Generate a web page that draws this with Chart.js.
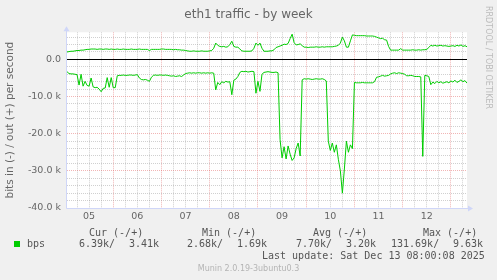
<!DOCTYPE html>
<html>
<head>
<meta charset="utf-8">
<script src="https://cdn.jsdelivr.net/npm/chart.js@4.4.0/dist/chart.umd.min.js"></script>
<style>
  html, body { margin: 0; padding: 0; background: #f0f0f0; }
  #wrap { position: relative; width: 497px; height: 280px; background: #f0f0f0; overflow: hidden; }
  #graph { position: absolute; left: 0; top: 0; }
  .txt { position: absolute; white-space: pre; color: #666; }
  .mono { font-family: "DejaVu Sans Mono", monospace; font-size: 10px; line-height: 12px; color: #555; }
  #title { left: 0; width: 497px; text-align: center; top: 7px; font: 12px "DejaVu Sans"; line-height: 14px; }
  #rrd { left: 484px; top: 6px; writing-mode: vertical-rl; font: 8px "DejaVu Sans"; line-height: 9px; color: #bbb; }
  #munin { left: 0; width: 497px; text-align: center; top: 264px; font: 8px "DejaVu Sans"; line-height: 10px; color: #b4b4b4; }
  #swatch { position: absolute; left: 14px; top: 241px; width: 6px; height: 6px; background: #00cc00; }
</style>
</head>
<body>
<div id="wrap">
  <canvas id="graph" width="497" height="280"></canvas>
  <div class="txt" id="title">eth1 traffic - by week</div>
  <div class="txt" id="rrd">RRDTOOL / TOBI OETIKER</div>

  <div class="txt mono" style="left:89px; top:227px">Cur (-/+)</div>
  <div class="txt mono" style="left:202px; top:227px">Min (-/+)</div>
  <div class="txt mono" style="left:313px; top:227px">Avg (-/+)</div>
  <div class="txt mono" style="left:423px; top:227px">Max (-/+)</div>

  <div id="swatch"></div>
  <div class="txt mono" style="left:27px; top:238px">bps</div>
  <div class="txt mono" style="left:79px; top:238px">6.39k/</div>
  <div class="txt mono" style="left:129px; top:238px">3.41k</div>
  <div class="txt mono" style="left:187px; top:238px">2.68k/</div>
  <div class="txt mono" style="left:237px; top:238px">1.69k</div>
  <div class="txt mono" style="left:296px; top:238px">7.70k/</div>
  <div class="txt mono" style="left:346px; top:238px">3.20k</div>
  <div class="txt mono" style="left:391px; top:238px">131.69k/</div>
  <div class="txt mono" style="left:453px; top:238px">9.63k</div>

  <div class="txt mono" style="left:262px; top:250px">Last update: Sat Dec 13 08:00:08 2025</div>
  <div class="txt" id="munin">Munin 2.0.19-3ubuntu0.3</div>
</div>

<script>
// x axis = hours since Dec 05 00:00, one sample per hour (01:00 .. 08:00 on the 13th)
const dayLabels = ['05', '06', '07', '08', '09', '10', '11', '12'];
const firstHour = 1;
const lastHour = 200;

// y axis in k bits/s
const yMin = -40;
const yMax = 7.3;
const yMajorTicks = [-40, -30, -20, -10, 0];

// out (+), k bits/s
const outK = [
  2.0, 2.1, 2.2, 2.2, 2.3, 2.4, 2.4, 2.5, 2.5, 2.6,
  2.7, 2.7, 2.8, 2.8, 2.8, 2.7, 2.8, 2.8, 2.7, 2.8,
  2.8, 2.7, 2.8, 2.7, 2.7, 2.8, 2.7, 2.7, 2.8, 2.7,
  2.7, 2.7, 2.8, 2.7, 2.7, 2.7, 2.8, 2.7, 2.7, 2.7,
  2.7, 2.4, 2.7, 2.7, 2.7, 2.7, 2.7, 2.8, 2.8, 2.7,
  2.7, 2.7, 2.7, 2.6, 2.7, 2.6, 2.6, 2.5, 2.5, 2.4,
  2.3, 2.2, 2.2, 2.3, 2.2, 2.2, 2.2, 2.3, 2.2, 2.2,
  2.2, 2.3, 2.4, 3.0, 4.4, 3.8, 3.5, 3.4, 3.5, 3.3,
  3.4, 4.0, 4.9, 3.5, 3.3, 3.3, 2.8, 2.3, 2.2, 2.2,
  2.2, 2.2, 2.3, 3.0, 4.4, 3.8, 4.4, 3.0, 2.2, 2.2,
  2.2, 2.3, 2.3, 2.6, 3.2, 3.4, 3.6, 3.8, 4.1, 4.0,
  4.3, 5.6, 6.8, 4.5, 3.9, 4.0, 4.2, 3.7, 3.3, 3.3,
  3.2, 3.3, 3.3, 3.3, 3.4, 3.3, 3.3, 3.4, 3.3, 3.4,
  3.4, 3.4, 3.4, 3.5, 3.6, 3.8, 4.4, 6.0, 5.0, 3.3,
  3.3, 5.0, 6.6, 6.5, 6.4, 6.4, 6.4, 6.4, 6.4, 6.3,
  6.3, 6.3, 6.3, 6.2, 6.0, 5.8, 5.6, 5.7, 5.3, 5.2,
  3.5, 2.5, 2.5, 2.5, 2.5, 2.5, 2.9, 2.5, 2.5, 2.5,
  2.5, 2.5, 2.6, 2.5, 2.5, 2.6, 2.5, 2.6, 2.6, 2.7,
  3.2, 3.8, 3.6, 3.8, 3.6, 3.7, 3.8, 3.6, 3.7, 3.6,
  3.5, 3.6, 3.7, 3.5, 3.8, 3.6, 3.9, 3.5, 3.7, 3.4
];

// in (-), k bits/s
const inK = [
  -3.3, -3.8, -3.9, -3.9, -4.0, -4.1, -6.9, -4.0, -7.2, -5.9,
  -7.0, -7.2, -5.0, -7.4, -7.6, -7.5, -8.0, -8.7, -7.8, -7.7,
  -4.9, -7.5, -4.9, -7.6, -7.6, -4.4, -4.3, -4.3, -4.2, -4.3,
  -4.3, -4.2, -4.2, -4.3, -4.2, -4.1, -5.0, -5.4, -5.5, -5.4,
  -5.6, -5.9, -4.8, -4.3, -4.2, -4.3, -4.2, -4.2, -4.3, -4.2,
  -4.3, -4.4, -4.5, -4.4, -4.6, -4.5, -4.4, -4.6, -4.2, -3.8,
  -3.7, -3.6, -3.7, -3.6, -3.7, -3.6, -3.6, -3.7, -3.6, -3.7,
  -3.6, -3.7, -3.6, -3.7, -8.2, -6.2, -6.8, -6.0, -6.3, -5.9,
  -6.1, -6.0, -9.5, -5.6, -5.3, -4.6, -3.5, -3.2, -3.3, -3.2,
  -3.4, -3.3, -3.2, -3.3, -9.1, -5.9, -8.6, -4.0, -3.5, -3.4,
  -3.3, -3.4, -3.5, -3.5, -3.4, -3.6, -21.6, -26.5, -23.5, -26.8,
  -23.3, -25.5, -27.2, -26.5, -24.0, -22.5, -26.0, -5.5, -5.2, -5.3,
  -5.2, -5.3, -5.4, -5.3, -5.2, -5.3, -5.3, -5.2, -5.4, -5.8,
  -22.0, -24.5, -22.5, -25.0, -23.0, -26.9, -30.0, -36.0, -29.5, -22.0,
  -25.0, -23.0, -24.0, -6.2, -6.3, -6.3, -6.3, -6.2, -6.3, -6.3,
  -6.3, -6.3, -6.3, -6.0, -4.8, -4.7, -4.5, -4.3, -4.5, -4.4,
  -4.3, -3.9, -3.7, -3.6, -3.8, -3.6, -3.7, -3.8, -4.0, -4.4,
  -4.4, -4.3, -4.4, -4.6, -4.6, -4.6, -4.7, -26.1, -4.3, -4.4,
  -4.6, -6.8, -6.1, -6.5, -5.9, -6.3, -6.0, -6.4, -6.2, -6.0,
  -6.3, -5.8, -6.1, -5.6, -6.2, -5.9, -5.5, -6.0, -5.7, -6.4
];

const lineColor = '#00cc00';
const majorGrid = 'rgba(222, 79, 79, 0.42)';
const minorGrid = 'rgba(143, 143, 143, 0.42)';
const axisColor = '#cfd6f8';
const fontColor = '#666';

// grid every 6 h, every 2 k
const xGridHours = [];
for (let h = 6; h < lastHour; h += 6) xGridHours.push(h);
const yGridTicks = [];
for (let v = yMin; v <= 6; v += 2) yGridTicks.push(v);

const toPoints = arr => arr.map((v, i) => ({ x: firstHour + i, y: v }));

// fond branco, linha do zero e eixos com setas
const muninDeco = {
  id: 'muninDeco',
  beforeDraw(chart) {
    const { ctx, chartArea: a } = chart;
    ctx.save();
    ctx.fillStyle = '#ffffff';
    ctx.fillRect(a.left, a.top, a.right - a.left, a.bottom - a.top);
    ctx.restore();
  },
  beforeDatasetsDraw(chart) {
    const { ctx, chartArea: a, scales } = chart;
    const y0 = Math.round(scales.y.getPixelForValue(0)) + 0.5;
    ctx.save();
    ctx.strokeStyle = '#000';
    ctx.lineWidth = 1;
    ctx.beginPath();
    ctx.moveTo(a.left, y0);
    ctx.lineTo(a.right, y0);
    ctx.stroke();

    // eixos
    const l = Math.round(a.left) - 0.5;
    const b = Math.round(a.bottom) + 0.5;
    ctx.strokeStyle = axisColor;
    ctx.beginPath();
    ctx.moveTo(l, a.top - 2);
    ctx.lineTo(l, b);
    ctx.lineTo(a.right + 4, b);
    ctx.stroke();
    ctx.fillStyle = axisColor;
    ctx.beginPath();
    ctx.moveTo(l - 3, a.top - 1);
    ctx.lineTo(l + 3, a.top - 1);
    ctx.lineTo(l, a.top - 6);
    ctx.closePath();
    ctx.fill();
    ctx.beginPath();
    ctx.moveTo(a.right + 1, b - 3);
    ctx.lineTo(a.right + 1, b + 3);
    ctx.lineTo(a.right + 6, b);
    ctx.closePath();
    ctx.fill();
    ctx.restore();
  }
};

new Chart(document.getElementById('graph'), {
  type: 'line',
  data: {
    datasets: [
      { label: 'in', data: toPoints(inK), borderColor: lineColor, borderWidth: 1, pointRadius: 0, tension: 0, fill: false },
      { label: 'out', data: toPoints(outK), borderColor: lineColor, borderWidth: 1, pointRadius: 0, tension: 0, fill: false }
    ]
  },
  options: {
    responsive: false,
    devicePixelRatio: 1,
    animation: false,
    events: [],
    layout: { padding: { left: 0, right: 30, top: 32.3, bottom: 52 } },
    plugins: { legend: { display: false }, tooltip: { enabled: false } },
    scales: {
      x: {
        type: 'linear',
        min: firstHour,
        max: lastHour,
        afterBuildTicks: s => { s.ticks = xGridHours.map(v => ({ value: v })); },
        afterFit: s => { s.height = 20; },
        border: { display: false, dash: [1, 1] },
        grid: {
          drawTicks: false,
          lineWidth: 1,
          color: c => (c.tick && c.tick.value % 24 === 0) ? majorGrid : minorGrid
        },
        ticks: {
          autoSkip: false,
          maxRotation: 0,
          padding: 3,
          color: fontColor,
          font: { family: 'DejaVu Sans', size: 9.5 },
          callback: v => (v % 24 === 12) ? dayLabels[(v - 12) / 24] : ''
        }
      },
      y: {
        min: yMin,
        max: yMax,
        afterBuildTicks: s => { s.ticks = yGridTicks.map(v => ({ value: v })); },
        afterFit: s => { s.width = 67; },
        border: { display: false, dash: [1, 1] },
        grid: {
          drawTicks: false,
          lineWidth: 1,
          color: c => (c.tick && yMajorTicks.includes(c.tick.value)) ? majorGrid : minorGrid
        },
        ticks: {
          autoSkip: false,
          padding: 6,
          color: fontColor,
          font: { family: 'DejaVu Sans', size: 9.5 },
          callback: v => yMajorTicks.includes(v) ? (v === 0 ? '0.0' : v.toFixed(1) + ' k') : ''
        },
        title: {
          display: true,
          text: 'bits in (-) / out (+) per second',
          color: fontColor,
          font: { family: 'DejaVu Sans', size: 10.5 }
        }
      }
    }
  },
  plugins: [muninDeco]
});
</script>
</body>
</html>
